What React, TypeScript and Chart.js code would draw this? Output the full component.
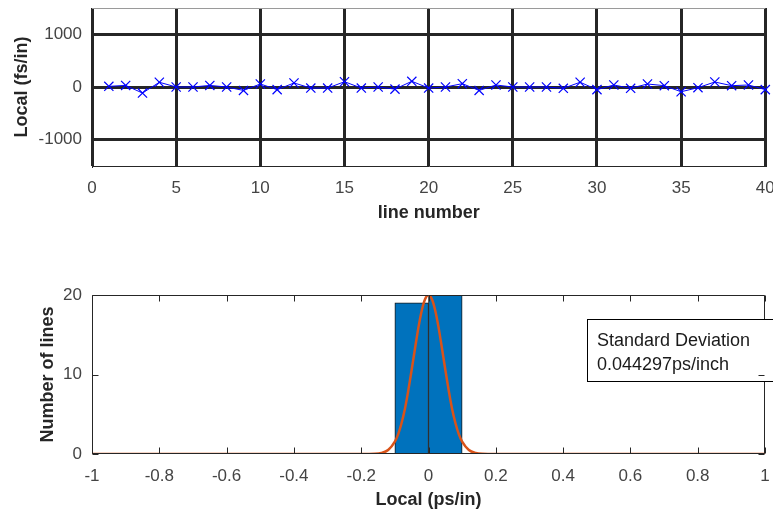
import React, { useEffect, useRef } from 'react';
import { Chart, registerables } from 'chart.js';

Chart.register(...registerables);

// ---------- Top plot data ----------
const lineNumbers = [1, 2, 3, 4, 5, 6, 7, 8, 9, 10, 11, 12, 13, 14, 15, 16, 17, 18, 19, 20,
  21, 22, 23, 24, 25, 26, 27, 28, 29, 30, 31, 32, 33, 34, 35, 36, 37, 38, 39, 40];
const localFsPerIn = [13, 30, -115, 90, 0, 0, 30, 0, -65, 57, -50, 76, -20, -20, 100, -20, 0, -40, 108, -20,
  0, 63, -65, 38, 0, 0, 0, -25, 90, -50, 38, -25, 57, 25, -90, -13, 95, 25, 38, -50];
const topXTicks = [0, 5, 10, 15, 20, 25, 30, 35, 40];
const topYTicks = [-1000, 0, 1000];

// ---------- Bottom plot data ----------
const binCenters = [-0.05, 0.05];
const binCounts = [19, 20];
const histXTicks = [-1, -0.8, -0.6, -0.4, -0.2, 0, 0.2, 0.4, 0.6, 0.8, 1];
const histYTicks = [0, 10, 20];
const fitX = [-1, -0.2, -0.16, -0.14, -0.12, -0.1, -0.09, -0.08, -0.07, -0.06, -0.05, -0.04, -0.03, -0.02, -0.01, 0,
  0.01, 0.02, 0.03, 0.04, 0.05, 0.06, 0.07, 0.08, 0.09, 0.1, 0.12, 0.14, 0.16, 0.2, 1];
const fitY = [0, 0, 0.03, 0.14, 0.51, 1.56, 2.5, 3.9, 5.7, 8.0, 10.6, 13.3, 15.9, 18.06, 19.5, 20,
  19.5, 18.06, 15.9, 13.3, 10.6, 8.0, 5.7, 3.9, 2.5, 1.56, 0.51, 0.14, 0.03, 0, 0];
const legendLines = ['Standard Deviation', '0.044297ps/inch'];

const FONT = "'Liberation Sans', Arial, sans-serif";
const TICK_COLOR = '#444444';
const TITLE_COLOR = '#262626';
const AXIS_COLOR = '#262626';

const topBorderPlugin = {
  id: 'topBorder',
  beforeDatasetsDraw(chart: any) {
    const { ctx, chartArea } = chart;
    ctx.save();
    ctx.strokeStyle = '#9a9a9a';
    ctx.lineWidth = 1;
    ctx.beginPath();
    const y = Math.round(chartArea.top) + 0.5;
    ctx.moveTo(chartArea.left, y);
    ctx.lineTo(chartArea.right, y);
    ctx.stroke();
    ctx.restore();
  },
};

const histAxesPlugin = {
  id: 'histAxes',
  afterDraw(chart: any) {
    const { ctx, chartArea, scales } = chart;
    const l = Math.round(chartArea.left) + 0.5;
    const r = Math.round(chartArea.right) - 0.5;
    const t = Math.round(chartArea.top) + 0.5;
    const b = Math.round(chartArea.bottom) - 0.5;
    ctx.save();
    ctx.strokeStyle = AXIS_COLOR;
    ctx.lineWidth = 1;
    ctx.beginPath();
    ctx.moveTo(l, t); ctx.lineTo(r, t); ctx.lineTo(r, b); ctx.lineTo(l, b); ctx.closePath();
    ctx.stroke();

    // legend box
    const bx = 587.5, by = 59.5, bw = 230, bh = 62;
    ctx.fillStyle = '#ffffff';
    ctx.fillRect(bx, by, bw, bh);
    ctx.strokeStyle = '#000000';
    ctx.strokeRect(bx, by, bw, bh);
    ctx.fillStyle = '#1a1a1a';
    ctx.font = `18px ${FONT}`;
    ctx.textBaseline = 'alphabetic';
    ctx.textAlign = 'left';
    ctx.fillText(legendLines[0], 597, 85.5);
    ctx.fillText(legendLines[1], 597, 110);

    // inward ticks
    ctx.strokeStyle = AXIS_COLOR;
    ctx.beginPath();
    const tl = 6;
    histXTicks.forEach((v) => {
      const x = Math.round(scales.x.getPixelForValue(v)) + 0.5;
      ctx.moveTo(x, b); ctx.lineTo(x, b - tl);
      ctx.moveTo(x, t); ctx.lineTo(x, t + tl);
    });
    histYTicks.forEach((v) => {
      const y = Math.round(scales.y.getPixelForValue(v)) + 0.5;
      ctx.moveTo(l, y); ctx.lineTo(l + tl, y);
      ctx.moveTo(r, y); ctx.lineTo(r - tl, y);
    });
    ctx.stroke();
    ctx.restore();
  },
};

export default function App() {
  const topRef = useRef<HTMLCanvasElement>(null);
  const botRef = useRef<HTMLCanvasElement>(null);

  useEffect(() => {
    const topChart = new Chart(topRef.current as HTMLCanvasElement, {
      type: 'line',
      data: {
        datasets: [
          {
            data: lineNumbers.map((x, i) => ({ x, y: localFsPerIn[i] })),
            borderColor: '#0000ff',
            borderWidth: 1,
            pointStyle: 'crossRot',
            pointRadius: 6.5,
            pointBorderColor: '#0000ff',
            pointBackgroundColor: '#0000ff',
            pointBorderWidth: 1.2,
            tension: 0,
            clip: false as any,
          },
        ],
      },
      options: {
        animation: false,
        responsive: false,
        events: [],
        layout: { padding: { top: 8, right: 7, left: 0, bottom: 0 } },
        plugins: { legend: { display: false }, tooltip: { enabled: false } },
        scales: {
          x: {
            type: 'linear',
            min: 0,
            max: 40,
            afterBuildTicks: (s: any) => { s.ticks = topXTicks.map((v) => ({ value: v })); },
            afterFit: (s: any) => { s.height = 94; s.paddingLeft = 0; s.paddingRight = 0; },
            grid: { color: AXIS_COLOR, lineWidth: 3, drawTicks: false },
            border: { display: true, color: AXIS_COLOR, width: 1 },
            ticks: {
              padding: 12,
              font: { family: FONT, size: 17 },
              color: TICK_COLOR,
              maxRotation: 0,
              autoSkip: false,
              callback: (v: any) => String(v),
            },
            title: {
              display: true,
              text: 'line number',
              font: { family: FONT, size: 18, weight: 'bold' },
              color: TITLE_COLOR,
              padding: { top: 0, bottom: 36 },
            },
          },
          y: {
            type: 'linear',
            min: -1500,
            max: 1500,
            afterBuildTicks: (s: any) => { s.ticks = topYTicks.map((v) => ({ value: v })); },
            afterFit: (s: any) => { s.width = 92; s.paddingTop = 0; s.paddingBottom = 0; },
            grid: { color: AXIS_COLOR, lineWidth: 3, drawTicks: false },
            border: { display: true, color: AXIS_COLOR, width: 1 },
            ticks: {
              padding: 10,
              font: { family: FONT, size: 17 },
              color: TICK_COLOR,
              autoSkip: false,
              callback: (v: any) => String(v),
            },
            title: {
              display: true,
              text: 'Local (fs/in)',
              font: { family: FONT, size: 18, weight: 'bold' },
              color: TITLE_COLOR,
              padding: { top: 11, bottom: 0 },
            },
          },
        },
      } as any,
      plugins: [topBorderPlugin],
    });

    const botChart = new Chart(botRef.current as HTMLCanvasElement, {
      type: 'bar',
      data: {
        datasets: [
          {
            type: 'line',
            data: fitX.map((x, i) => ({ x, y: fitY[i] })),
            borderColor: '#D95319',
            borderWidth: 2.5,
            pointRadius: 0,
            cubicInterpolationMode: 'monotone',
            order: 0,
          } as any,
          {
            type: 'bar',
            data: binCenters.map((x, i) => ({ x, y: binCounts[i] })),
            backgroundColor: '#0072BD',
            borderColor: '#1a1a1a',
            borderWidth: 1,
            borderSkipped: false,
            barPercentage: 1,
            categoryPercentage: 1,
            order: 1,
          } as any,
        ],
      },
      options: {
        animation: false,
        responsive: false,
        events: [],
        layout: { padding: { top: 35, right: 8, left: 0, bottom: 0 } },
        plugins: { legend: { display: false }, tooltip: { enabled: false } },
        scales: {
          x: {
            type: 'linear',
            min: -1,
            max: 1,
            offset: false,
            afterBuildTicks: (s: any) => { s.ticks = histXTicks.map((v) => ({ value: v })); },
            afterFit: (s: any) => { s.height = 61; s.paddingLeft = 0; s.paddingRight = 0; },
            grid: { display: false, offset: false, drawTicks: false },
            border: { display: false },
            ticks: {
              padding: 12.5,
              font: { family: FONT, size: 17 },
              color: TICK_COLOR,
              maxRotation: 0,
              autoSkip: false,
              callback: (v: any) => String(v),
            },
            title: {
              display: true,
              text: 'Local (ps/in)',
              font: { family: FONT, size: 18, weight: 'bold' },
              color: TITLE_COLOR,
              padding: { top: 0, bottom: 4 },
            },
          },
          y: {
            type: 'linear',
            min: 0,
            max: 20,
            afterBuildTicks: (s: any) => { s.ticks = histYTicks.map((v) => ({ value: v })); },
            afterFit: (s: any) => { s.width = 92; s.paddingTop = 0; s.paddingBottom = 0; },
            grid: { display: false, drawTicks: false },
            border: { display: false },
            ticks: {
              padding: 10,
              font: { family: FONT, size: 17 },
              color: TICK_COLOR,
              autoSkip: false,
              callback: (v: any) => String(v),
            },
            title: {
              display: true,
              text: 'Number of lines',
              font: { family: FONT, size: 18, weight: 'bold' },
              color: TITLE_COLOR,
              padding: { top: 37, bottom: 0 },
            },
          },
        },
      } as any,
      plugins: [histAxesPlugin],
    });

    return () => {
      topChart.destroy();
      botChart.destroy();
    };
  }, []);

  return (
    <div style={{ position: 'absolute', left: 0, top: 0, width: 773, height: 515, background: '#ffffff', overflow: 'hidden' }}>
      <canvas ref={topRef} width={773} height={260} style={{ position: 'absolute', left: 0, top: 0 }} />
      <canvas ref={botRef} width={773} height={255} style={{ position: 'absolute', left: 0, top: 260 }} />
    </div>
  );
}
